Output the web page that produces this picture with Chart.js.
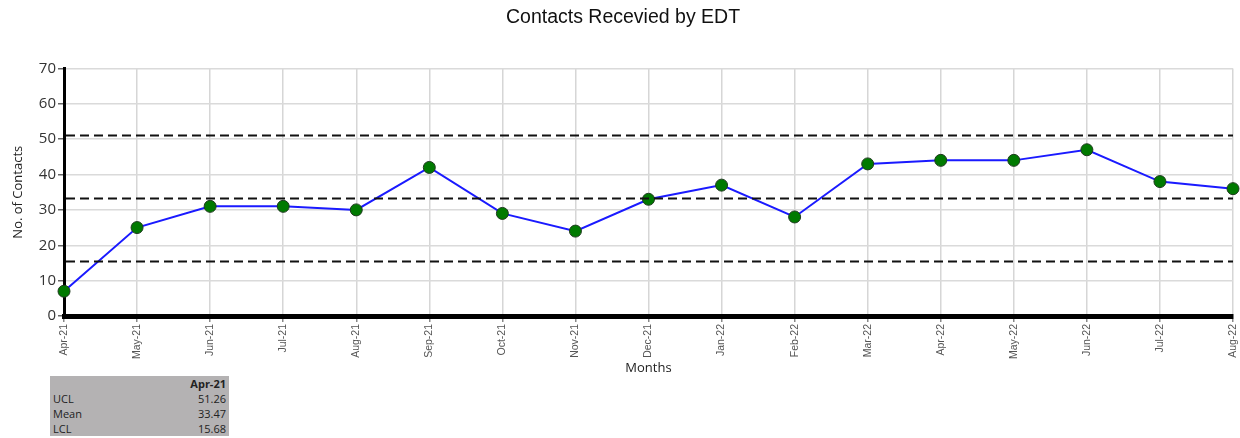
<!DOCTYPE html>
<html>
<head>
<style>
  * { margin: 0; padding: 0; box-sizing: border-box; }
  body { background: #fff; width: 1240px; height: 438px; position: relative; overflow: hidden; }
  .chartBox { position: absolute; left: 0; top: 0; width: 1240px; height: 438px; }
  #statTable {
    position: absolute; left: 50px; top: 376px; width: 179px; height: 60px;
    background: #b4b2b3; border-collapse: collapse;
    font-family: "Open Sans", "Liberation Sans", sans-serif; font-size: 11px; color: #222;
  }
  #statTable td { padding: 0 3px; line-height: 15px; }
  #statTable td.v { text-align: right; }
  #statTable th { text-align: right; font-weight: 700; padding: 0 3px; line-height: 15px; }
</style>
</head>
<body>
<div class="chartBox"><canvas id="myChart" width="1240" height="438"></canvas></div>
<table id="statTable"></table>

<script src="https://cdn.jsdelivr.net/npm/chart.js/dist/chart.umd.min.js"></script>
<script>
// data
const months = ['Apr-21', 'May-21', 'Jun-21', 'Jul-21', 'Aug-21', 'Sep-21', 'Oct-21', 'Nov-21', 'Dec-21',
                'Jan-22', 'Feb-22', 'Mar-22', 'Apr-22', 'May-22', 'Jun-22', 'Jul-22', 'Aug-22'];
const contacts = [7, 25, 31, 31, 30, 42, 29, 24, 33, 37, 28, 43, 44, 44, 47, 38, 36];
const limitNames = ['UCL', 'Mean', 'LCL'];
const limitValues = [51.26, 33.47, 15.68];

// stats table under the chart
const tbl = document.getElementById('statTable');
let html = '<tr><td></td><th>' + months[0] + '</th></tr>';
limitNames.forEach((n, i) => {
  html += '<tr><td>' + n + '</td><td class="v">' + limitValues[i].toFixed(2) + '</td></tr>';
});
tbl.innerHTML = html;

// dashed control lines
const limitLines = {
  id: 'limitLines',
  afterDatasetsDraw(chart) {
    const { ctx, chartArea, scales } = chart;
    ctx.save();
    ctx.strokeStyle = '#111';
    ctx.lineWidth = 2;
    ctx.setLineDash([9, 5]);
    limitValues.forEach(v => {
      const y = Math.round(scales.y.getPixelForValue(v)) + 0.5;
      ctx.beginPath();
      ctx.moveTo(chartArea.left + 2, y);
      ctx.lineTo(chartArea.right, y);
      ctx.stroke();
    });
    ctx.restore();
  }
};

const config = {
  type: 'line',
  data: {
    labels: months,
    datasets: [{
      label: 'Contacts',
      data: contacts,
      borderColor: '#1a1aff',
      borderWidth: 2,
      pointBackgroundColor: '#007a00',
      pointBorderColor: '#1f3a1f',
      pointBorderWidth: 1,
      pointRadius: 6,
      tension: 0,
      clip: false
    }]
  },
  options: {
    responsive: false,
    animation: false,
    layout: { padding: { left: 6, right: 0, top: 0, bottom: 58 } },
    plugins: {
      legend: { display: false },
      tooltip: { enabled: false },
      title: {
        display: true,
        text: 'Contacts Recevied by EDT',
        color: '#111',
        font: { family: '"Liberation Sans", Arial, sans-serif', size: 19.5, weight: 'normal' },
        padding: { top: 6, bottom: 39 }
      }
    },
    scales: {
      x: {
        offset: false,
        grid: { color: '#d6d6d6', lineWidth: 1.5, tickLength: 6, tickColor: '#888' },
        border: { color: '#000', width: 5 },
        ticks: {
          minRotation: 90, maxRotation: 90, autoSkip: false,
          color: '#555', padding: 2,
          font: { family: '"Liberation Sans", Arial, sans-serif', size: 10.5 }
        },
        title: {
          display: true, text: 'Months', color: '#222', padding: { top: 2, bottom: 4 },
          font: { family: '"Open Sans", "Liberation Sans", sans-serif', size: 13 }
        },
        afterFit: s => { s.height = 64; s.paddingRight = 0; s.paddingLeft = 0; }
      },
      y: {
        min: 0, max: 70,
        ticks: {
          stepSize: 10, color: '#333', padding: 2,
          font: { family: '"Open Sans", "Liberation Sans", sans-serif', size: 15 }
        },
        grid: { color: '#dadada', lineWidth: 1.5, tickLength: 6, tickColor: '#666' },
        border: { color: '#000', width: 3 },
        title: {
          display: true, text: 'No. of Contacts', color: '#222', padding: { top: 4, bottom: 4 },
          font: { family: '"Open Sans", "Liberation Sans", sans-serif', size: 13 }
        },
        afterFit: s => { s.width = 58; }
      }
    }
  },
  plugins: [limitLines]
};

const myChart = new Chart(document.getElementById('myChart'), config);
</script>
</body>
</html>
